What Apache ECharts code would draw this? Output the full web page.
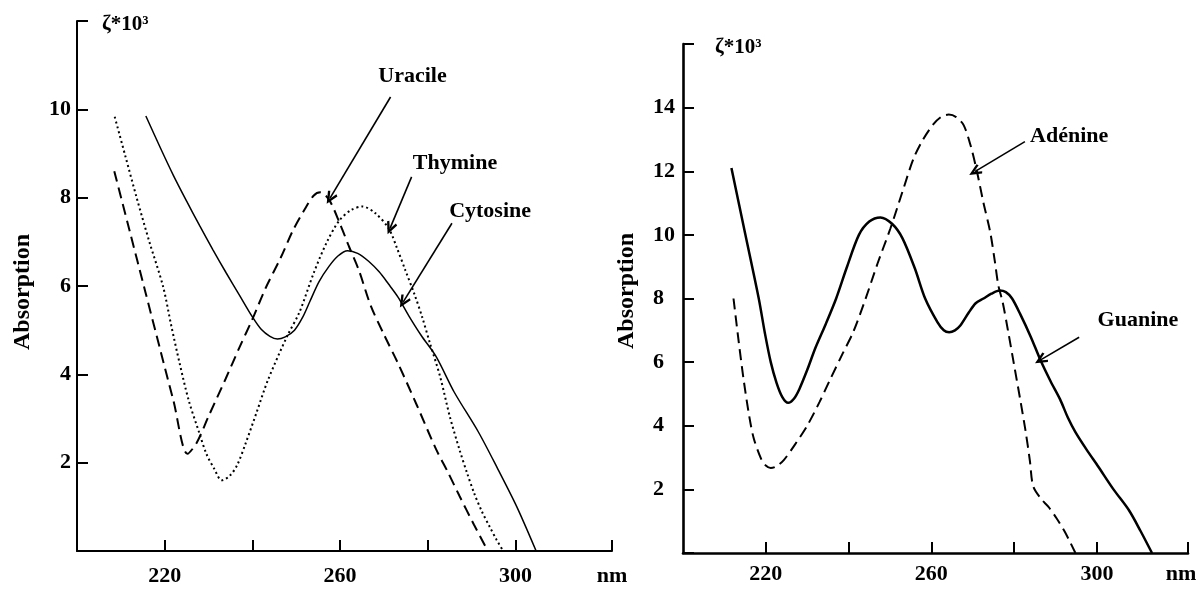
<!DOCTYPE html>
<html>
<head>
<meta charset="utf-8">
<script src="https://cdn.jsdelivr.net/npm/echarts@6/dist/echarts.min.js"></script>
<style>
  html, body { margin: 0; padding: 0; background: #fff; }
  #chart { width: 1201px; height: 589px; }
</style>
</head>
<body>
<div id="chart"></div>
<script>
// wavelength (nm), absorption (ζ*10^3)
const uracile = [
  [208.5, 8.6], [212, 7.25], [215.5, 5.9], [219, 4.55], [222, 3.4], [225.2, 2.2],
  [227.3, 2.45], [230, 3.05], [233.9, 3.9], [237, 4.6],
  [240, 5.25], [243, 5.95], [246.5, 6.65], [249.2, 7.25], [252, 7.75], [254, 8.05],
  [255.5, 8.12], [257.5, 7.95], [260, 7.4], [262, 6.9], [264.3, 6.35], [267, 5.55],
  [270, 4.9], [273.2, 4.25], [277.5, 3.3], [281.9, 2.3], [284.5, 1.8], [287.2, 1.25],
  [290.5, 0.6], [293.7, 0]
]
const thymine = [
  [208.6, 9.83], [211, 8.95], [213.6, 8.0], [216.5, 7.0], [219.6, 6.0], [221.5, 5.1],
  [223.4, 4.25], [225.5, 3.4], [227.8, 2.7], [229.5, 2.2], [231.3, 1.86], [233, 1.6],
  [234.8, 1.7], [236.5, 1.94], [238.5, 2.45], [241, 3.15], [243.5, 3.86], [247.9, 4.86],
  [250.7, 5.4], [254, 6.3], [257, 7.0], [259.8, 7.48], [262.5, 7.72], [265.1, 7.8],
  [268, 7.65], [271.1, 7.3], [273, 6.85], [274.9, 6.35], [277, 5.8], [278.7, 5.3],
  [280.5, 4.7], [282.8, 3.95], [285, 3.05], [287.2, 2.3], [289, 1.75], [290.6, 1.3],
  [292.3, 0.9], [294.1, 0.55], [295.7, 0.25], [297.2, 0]
]
const cytosine = [
  [215.7, 9.85], [219, 9.13], [222, 8.5], [225, 7.92], [228, 7.36], [231, 6.82],
  [234, 6.3], [237, 5.8], [240, 5.3], [242, 5.02], [244, 4.86],
  [245.7, 4.8], [247.5, 4.85], [249.6, 5.0], [251.5, 5.3], [253.1, 5.65], [255.2, 6.1],
  [257.5, 6.45], [259.5, 6.68], [261.7, 6.8], [264, 6.74], [266.5, 6.56], [268.9, 6.32],
  [271, 6.05], [273.2, 5.75], [275.7, 5.32], [278.5, 4.88], [281.9, 4.4], [286, 3.6],
  [291.5, 2.7], [296, 1.85], [300.3, 1.0], [304.7, 0]
]
const adenine = [
  [212.2, 8.0], [213.5, 6.6], [214.7, 5.4], [216, 4.3], [217.1, 3.6], [218.9, 2.95],
  [220, 2.75], [221.2, 2.67], [222.5, 2.72], [224.4, 2.93], [227, 3.4], [230, 4.0],
  [233, 4.75], [235.6, 5.47], [238.5, 6.25], [241.1, 6.94], [244, 7.95], [247, 9.1],
  [250.1, 10.2], [253, 11.35], [255.7, 12.4], [258, 13.0], [260.5, 13.48], [262.5, 13.72],
  [264.2, 13.78], [266, 13.7], [267.8, 13.45], [269.5, 12.8], [271, 12.0], [272.6, 11.0],
  [274.2, 10.1], [275.3, 9.2], [276.2, 8.4], [277.2, 7.9], [278.5, 7.0], [280, 5.9],
  [281.5, 4.8], [282.8, 3.8], [283.8, 2.9], [284.6, 2.1], [286.5, 1.7], [288.3, 1.45],
  [290.2, 1.1], [292, 0.72], [293.5, 0.35], [294.8, 0]
]
const guanine = [
  [211.7, 12.1], [215, 10.05], [218.3, 8.0], [219.8, 6.9], [221.2, 6.0],
  [222.6, 5.35], [224, 4.9], [225.4, 4.72], [226.8, 4.85], [228.1, 5.15], [230, 5.75],
  [232, 6.45], [234.5, 7.2], [237, 8.0], [239.5, 8.95], [242.5, 10.0], [245, 10.42],
  [247.7, 10.55], [250.5, 10.35], [253, 9.9], [256, 8.95], [258.5, 8.0], [261.5, 7.25],
  [263, 7.0], [264.3, 6.94], [265.7, 7.0], [267, 7.15], [269, 7.55], [270.7, 7.85],
  [272.6, 8.0], [274.5, 8.15], [276.5, 8.25], [278, 8.2], [279.5, 8.0], [281.5, 7.5],
  [284, 6.8], [286.4, 6.05], [288.8, 5.4], [291.1, 4.83], [293, 4.25], [294.8, 3.8],
  [297.5, 3.25], [300.3, 2.72], [304, 2.0], [307.7, 1.35], [310.5, 0.7], [313.3, 0]
]

// x ticks / labels (nm)
const xTickValues = [220, 240, 260, 280, 300, 322]
const xLabelValues = [220, 260, 300]

// annotations: [label, label point, arrow tail, arrow head]
const leftNotes = [
  ['Uracile', [276.5, 10.75], [271.5, 10.28], [257.7, 7.99]],
  ['Thymine', [286.2, 8.78], [276.3, 8.47], [271.4, 7.31]],
  ['Cytosine', [294.2, 7.70], [285.5, 7.42], [274.4, 5.64]]
]
const rightNotes = [
  ['Adénine', [293.3, 13.11], [282.6, 12.93], [270.5, 11.99]],
  ['Guanine', [309.9, 7.32], [295.7, 6.78], [286.4, 6.07]]
]

const font = '"Liberation Serif", "DejaVu Serif", serif'
const black = '#000'
const chevron = 'path://M5,0 L10,9 L8.2,10 L5,4.2 L1.8,10 L0,9 Z'

function notes(list) {
    return {
        markLine: {
            silent: true,
            symbol: ['none', chevron],
            symbolSize: [11, 13],
            lineStyle: {type: 'solid', width: 1.6, color: black},
            label: {show: false},
            emphasis: {disabled: true},
            data: list.map(n => [{coord: n[2]}, {coord: n[3]}])
        },
        markPoint: {
            silent: true,
            symbol: 'circle',
            symbolSize: 0,
            label: {
                show: true,
                position: 'inside',
                color: black,
                fontFamily: font,
                fontWeight: 'bold',
                fontSize: 22,
                formatter: p => p.name
            },
            data: list.map(n => ({name: n[0], coord: n[1]}))
        }
    }
}

function xAxis(gridIndex, lineWidth, labelMargin, nameGap, namePad) {
    return {
        type: 'value', gridIndex: gridIndex, min: 200, max: 322,
        axisLine: {show: true, onZero: false, lineStyle: {color: black, width: lineWidth}},
        axisTick: {show: true, inside: true, length: 11, customValues: xTickValues,
            lineStyle: {color: black, width: 2}},
        axisLabel: {customValues: xLabelValues, margin: labelMargin, color: black,
            fontFamily: font, fontWeight: 'bold', fontSize: 22},
        splitLine: {show: false},
        name: 'nm', nameLocation: 'end', nameGap: nameGap,
        nameTextStyle: {color: black, fontFamily: font, fontWeight: 'bold', fontSize: 22,
            align: 'center', verticalAlign: 'top', padding: [namePad, 0, 0, 0]}
    }
}

function yAxis(gridIndex, max, lineWidth, labelAlign, labelMargin, namePadLeft) {
    return {
        type: 'value', gridIndex: gridIndex, min: 0, max: max, interval: 2,
        axisLine: {show: true, lineStyle: {color: black, width: lineWidth}},
        axisTick: {show: true, inside: true, length: 11, lineStyle: {color: black, width: 2}},
        axisLabel: {align: labelAlign, margin: labelMargin, color: black,
            fontFamily: font, fontWeight: 'bold', fontSize: 22,
            formatter: v => (v === 0 || v === max) ? '' : String(v)},
        splitLine: {show: false},
        name: 'ζ*10³', nameLocation: 'end', nameGap: -4,
        nameTextStyle: {color: black, fontFamily: font, fontWeight: 'bold', fontSize: 21,
            align: 'left', verticalAlign: 'middle', padding: [0, 0, 0, namePadLeft]}
    }
}

function curve(name, data, xi, type, width, dash) {
    return {
        name: name, type: 'line', xAxisIndex: xi, yAxisIndex: xi,
        data: data, showSymbol: false, smooth: 0.3,
        lineStyle: {color: black, width: width, type: dash ? dash : type},
        emphasis: {disabled: true}
    }
}

let chart = echarts.init(document.getElementById('chart'), null, {renderer: 'canvas'})

let options = {
    animation: false,
    backgroundColor: '#fff',
    grid: [
        {left: 77, top: 21, width: 535, height: 530},
        {left: 683, top: 44, width: 505, height: 509}
    ],
    xAxis: [
        xAxis(0, 2, 14, 0, 14),
        xAxis(1, 2.6, 10, -7, 10)
    ],
    yAxis: [
        yAxis(0, 12, 2, 'right', 6, 25),
        yAxis(1, 16, 2.6, 'left', 30, 32)
    ],
    graphic: [
        {type: 'text', x: 23, y: 292, rotation: Math.PI / 2,
            style: {text: 'Absorption', font: 'bold 24px ' + font, fill: black,
                align: 'center', verticalAlign: 'middle'}},
        {type: 'text', x: 627, y: 291, rotation: Math.PI / 2,
            style: {text: 'Absorption', font: 'bold 24px ' + font, fill: black,
                align: 'center', verticalAlign: 'middle'}}
    ],
    series: [
        Object.assign(curve('Uracile', uracile, 0, 'dashed', 2, [11, 6]), notes(leftNotes)),
        curve('Thymine', thymine, 0, 'dotted', 2, [2, 3]),
        curve('Cytosine', cytosine, 0, 'solid', 1.5),
        Object.assign(curve('Adénine', adenine, 1, 'dashed', 2, [11, 6]), notes(rightNotes)),
        curve('Guanine', guanine, 1, 'solid', 2.5)
    ]
}

chart.setOption(options)
</script>
</body>
</html>
